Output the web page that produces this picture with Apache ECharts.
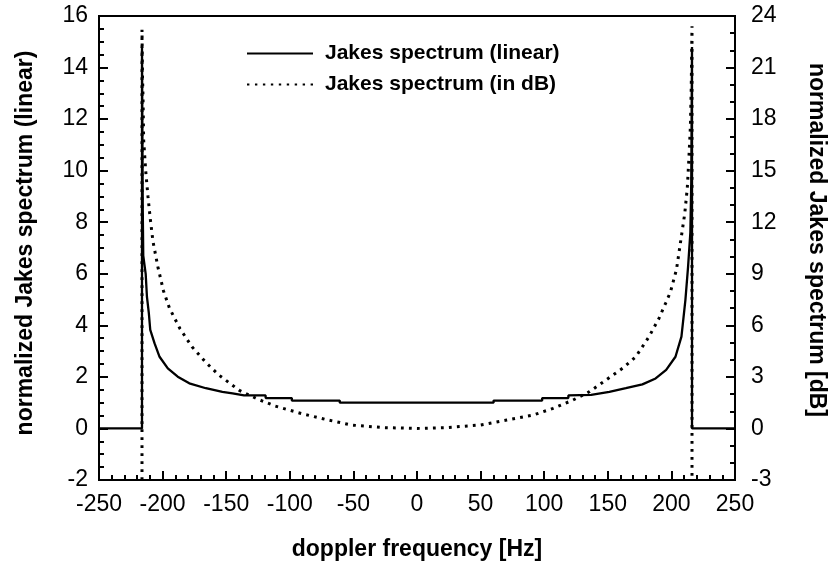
<!DOCTYPE html>
<html>
<head>
<meta charset="utf-8">
<script src="https://cdn.jsdelivr.net/npm/echarts@6/dist/echarts.min.js"></script>
<style>html,body{margin:0;padding:0;background:#fff}#c{width:836px;height:566px}</style>
</head>
<body>
<div id="c"></div>
<script>
// Doppler frequency [Hz] and normalized Jakes spectrum (linear)
const linFreq = [-250,-216.2,-216.2,-215.6,-215.2,-213.3,-212.3,-210.8,-209.7,-206.3,-202.4,-195.9,-188.1,-179,-166,-153,-145,-136,-119,-119,-98.4,-98.4,-60.7,-60.7,
  60.2,60.2,98.4,98.4,119,119,136.9,151.2,164.2,177.2,187.6,195.9,203.2,207.9,211,213.1,214.9,215.6,216.2,216.2,250];
const linValue = [0,0,14.8,8.5,6.7,6.0,5.1,4.46,3.82,3.3,2.78,2.33,2.01,1.75,1.56,1.42,1.36,1.28,1.28,1.18,1.18,1.08,1.08,1.0,
  1.0,1.08,1.08,1.18,1.18,1.28,1.3,1.42,1.56,1.71,1.94,2.27,2.78,3.56,4.98,6.27,7.6,9.5,14.8,0,0];

// Doppler frequency [Hz] and Jakes spectrum in dB
const dbFreq = [-216.2,-216.2,-215.8,-215.4,-214.9,-213.3,-211.5,-209.7,-207.6,-203.7,-199.3,-194.6,-186.3,-176.9,-166,-155.6,-140,-125.7,-111.4,-90.6,-69.8,-51.6,-26.9,0,
  21.2,49.8,70.6,91.4,107,122.6,135.6,148.6,161.6,172,182.4,190.2,195.4,199.3,204,207.1,210.5,212.5,213.6,214.9,215.6,216.2,216.2];
const dbValue = [-3,23.2,20.5,19.3,16.8,15.0,13.5,12.2,10.9,9.4,8.0,7.0,5.8,4.75,3.84,3.1,2.23,1.72,1.3,0.86,0.49,0.2,0.05,0,
  0.04,0.2,0.49,0.78,1.17,1.65,2.14,2.82,3.5,4.17,5.34,6.4,7.28,7.95,9.25,10.8,12.5,14.0,15.5,17.5,19.8,23.4,-3];

const xTicks = {min:-250, max:250, interval:50};
const yLeftTicks = {min:-2, max:16, interval:2};
const yRightTicks = {min:-3, max:24, interval:3};

const seriesNames = ['Jakes spectrum (linear)', 'Jakes spectrum (in dB)'];
const xTitle = 'doppler frequency [Hz]';
const yLeftTitle = 'normalized Jakes spectrum (linear)';
const yRightTitle = 'normalized Jakes spectrum [dB]';

const FONT = '"Liberation Sans", Arial, Helvetica, sans-serif';
const chart = echarts.init(document.getElementById('c'), null, {renderer:'canvas'});

// legend sample icons: solid bar and a row of small dots
const solidIcon = 'path://M0,0H66V2H0Z';
let dotPath = 'path://';
for (let k = 0; k < 9; k++) { dotPath += 'M' + (k*8) + ',0h2.4v2h-2.4z'; }

const axisCommon = {
  axisLine: {show:true, onZero:false, lineStyle:{color:'#000', width:2}},
  axisTick: {show:true, inside:true, length:9, lineStyle:{color:'#000', width:2}},
  minorTick: {show:true, length:5, lineStyle:{color:'#000', width:2}},
  splitLine: {show:false},
  axisLabel: {color:'#000', fontSize:23, fontFamily:FONT},
  nameTextStyle: {color:'#000', fontSize:23, fontWeight:'bold', fontFamily:FONT}
};

chart.setOption({
  animation: false,
  backgroundColor: '#fff',
  grid: {left:99, right:96, top:16, bottom:86, containLabel:false, show:true, borderColor:'#000', borderWidth:2},
  legend: {
    orient: 'vertical', left: 247, top: 43, padding: 0, itemWidth: 66, itemHeight: 2, itemGap: 10,
    data: [{name:seriesNames[0], icon:solidIcon}, {name:seriesNames[1], icon:dotPath}],
    itemStyle: {color:'#000', borderWidth:0},
    textStyle: {color:'#000', fontSize:21, lineHeight:21, fontWeight:'bold', fontFamily:FONT, padding:[0,0,0,7]}
  },
  xAxis: Object.assign({}, axisCommon, {
    type:'value', min:xTicks.min, max:xTicks.max, interval:xTicks.interval,
    minorTick: Object.assign({}, axisCommon.minorTick, {splitNumber:5}),
    axisLabel: Object.assign({}, axisCommon.axisLabel, {margin:13}),
    name: xTitle, nameLocation:'middle', nameGap:58
  }),
  yAxis: [
    Object.assign({}, axisCommon, {
      type:'value', position:'left', min:yLeftTicks.min, max:yLeftTicks.max, interval:yLeftTicks.interval,
      minorTick: Object.assign({}, axisCommon.minorTick, {splitNumber:4}),
      axisLabel: Object.assign({}, axisCommon.axisLabel, {margin:11}),
      name: yLeftTitle, nameLocation:'middle', nameGap:62,
      nameTextStyle: Object.assign({}, axisCommon.nameTextStyle, {padding:[0,0,0,10]})
    }),
    Object.assign({}, axisCommon, {
      type:'value', position:'right', min:yRightTicks.min, max:yRightTicks.max, interval:yRightTicks.interval,
      minorTick: Object.assign({}, axisCommon.minorTick, {splitNumber:3}),
      axisLabel: Object.assign({}, axisCommon.axisLabel, {margin:16, padding:[18,0,0,0]}),
      name: yRightTitle, nameLocation:'middle', nameGap:70, nameRotate:-90,
      nameTextStyle: Object.assign({}, axisCommon.nameTextStyle, {padding:[0,16,0,0]})
    })
  ],
  series: [
    {
      name: seriesNames[0], type:'line', yAxisIndex:0, symbol:'none', showSymbol:false,
      data: linFreq.map((f,i)=>[f, linValue[i]]),
      lineStyle: {color:'#000', width:2.3},
      itemStyle: {color:'#000'}, z:3
    },
    {
      name: seriesNames[1], type:'line', yAxisIndex:1, symbol:'none', showSymbol:false,
      data: dbFreq.map((f,i)=>[f, dbValue[i]]),
      lineStyle: {color:'#000', width:3, type:[2.8,5.2]},
      itemStyle: {color:'#000'}, z:2
    }
  ]
});
</script>
</body>
</html>
